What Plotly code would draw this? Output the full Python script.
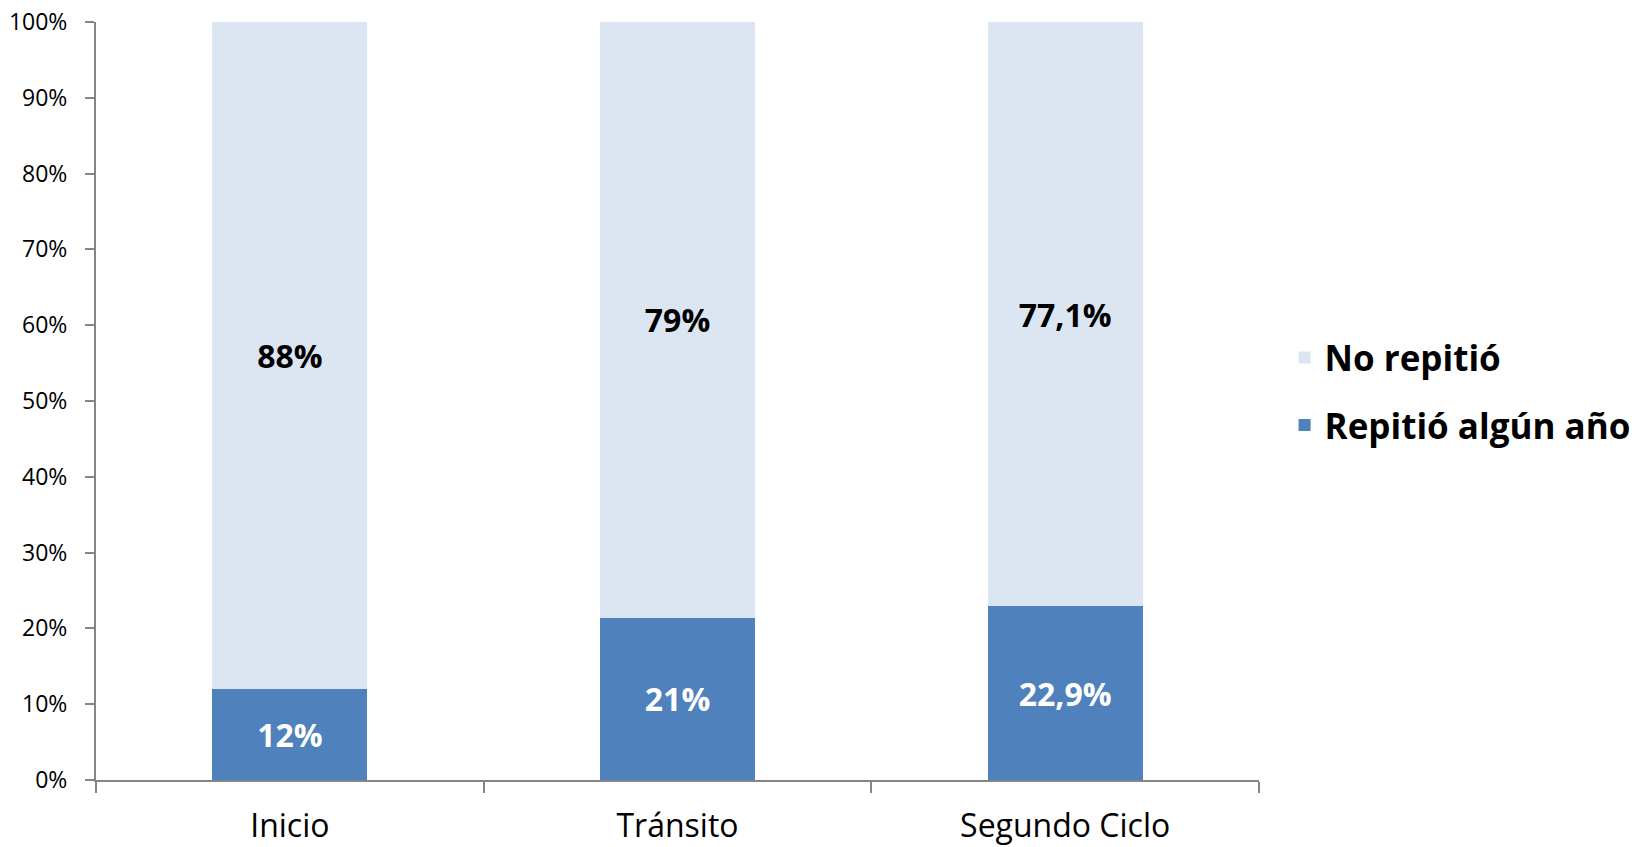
import plotly.graph_objects as go

categories = ["Inicio", "Tránsito", "Segundo Ciclo"]
repitio = [12, 21.4, 22.9]
no_repitio = [88, 78.6, 77.1]
repitio_labels = ["12%", "21%", "22,9%"]
no_repitio_labels = ["88%", "79%", "77,1%"]
y_ticks = [0, 10, 20, 30, 40, 50, 60, 70, 80, 90, 100]
y_tick_labels = [f"{v}%" for v in y_ticks]

FONT = "Open Sans"
AXIS = "#868686"

fig = go.Figure()
fig.add_trace(go.Bar(
    x=categories, y=repitio, name="Repitió algún año",
    marker=dict(color="#4F81BD", line=dict(width=0)),
    text=repitio_labels, textposition="inside", insidetextanchor="middle",
    textangle=0,
    textfont=dict(family=FONT, size=32, color="white", weight="bold"),
    legendgroup="a", legendrank=2,
))
fig.add_trace(go.Bar(
    x=categories, y=no_repitio, name="No repitió",
    marker=dict(color="#DCE6F2", line=dict(width=0)),
    text=no_repitio_labels, textposition="inside", insidetextanchor="middle",
    textangle=0,
    textfont=dict(family=FONT, size=32, color="black", weight="bold"),
    legendgroup="b", legendrank=1,
))

fig.update_layout(
    width=1639, height=847,
    barmode="stack", bargap=0.6,
    plot_bgcolor="white", paper_bgcolor="white",
    margin=dict(l=96, r=380, t=22, b=67, autoexpand=False),
    font=dict(family=FONT, color="black"),
    uniformtext=dict(mode=False),
    legend=dict(
        x=1.022, xanchor="left", y=0.513, yanchor="middle",
        font=dict(family=FONT, size=35, color="black", weight="bold"),
        traceorder="grouped", tracegroupgap=19,
        bgcolor="rgba(0,0,0,0)",
    ),
    showlegend=True,
)
fig.update_xaxes(
    automargin=False,
    showline=True, linecolor=AXIS, linewidth=2,
    ticks="outside", tickson="boundaries", ticklen=11, tickcolor=AXIS, tickwidth=2,
    tickfont=dict(family=FONT, size=32, color="black"),
    ticklabelstandoff=17, ticklabeloverflow="allow",
    showgrid=False, zeroline=False,
)
fig.update_yaxes(
    automargin=False,
    range=[0, 100], tickvals=y_ticks, ticktext=y_tick_labels,
    showline=True, linecolor=AXIS, linewidth=2,
    ticks="outside", ticklen=9, tickcolor=AXIS, tickwidth=2,
    tickfont=dict(family=FONT, size=23, color="black"),
    ticklabelstandoff=13, ticklabeloverflow="allow",
    showgrid=False, zeroline=False,
)

fig.write_html(
    "out.html",
    config={"displayModeBar": False},
    post_script="document.body.style.margin='0';",
)
